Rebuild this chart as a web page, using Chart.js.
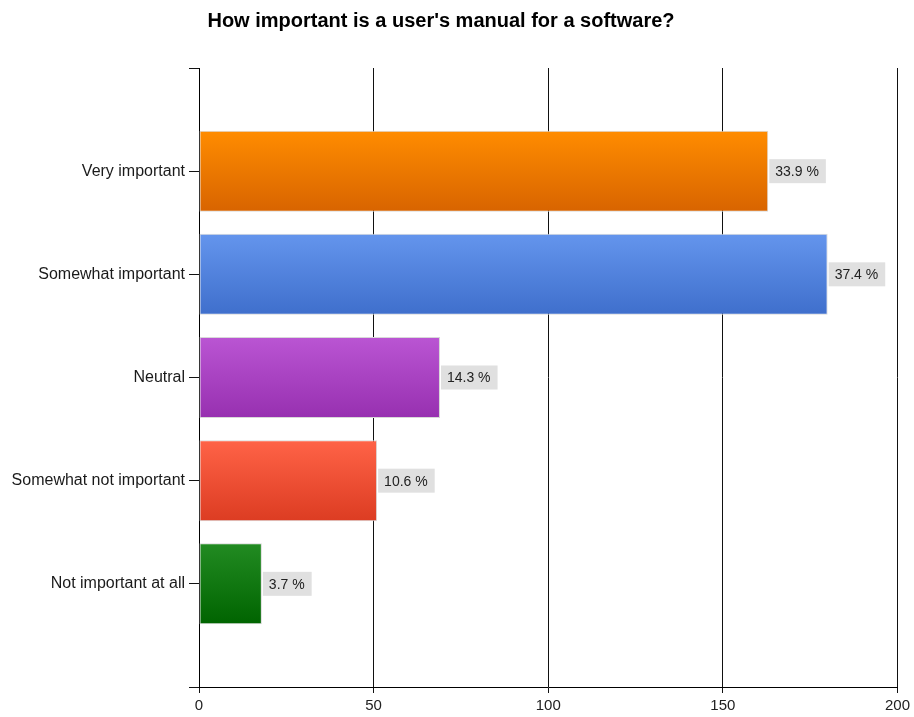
<!DOCTYPE html>
<html lang="en">
<head>
<meta charset="UTF-8">
<title>User's manual survey</title>
<script src="https://cdn.jsdelivr.net/npm/chart.js"></script>
<style>
  html, body { margin: 0; padding: 0; background: #fff; }
  #wrap { width: 914px; height: 717px; }
</style>
</head>
<body>
<div id="wrap"><canvas id="surveyChart" width="914" height="717"></canvas></div>
<script>
// survey answers (number of responses)
const answers = ['Very important', 'Somewhat important', 'Neutral', 'Somewhat not important', 'Not important at all'];
const responses = [163, 180, 69, 51, 18];
const xTicks = [0, 50, 100, 150, 200];

// top / bottom colour of each bar's gradient
const topColors = ['#ff8c00', '#6495ed', '#ba55d3', '#ff6347', '#228b22'];
const bottomColors = ['#d86400', '#3f6fcc', '#9730b0', '#dc3c22', '#006400'];

const total = responses.reduce((a, b) => a + b, 0);

// blank slot above and below the answers, like the original report
const labels = [''].concat(answers, ['']);
const values = [null].concat(responses, [null]);
const BAR_H = 81;

function barGradient(c) {
  const chart = c.chart;
  const idx = c.dataIndex - 1;
  if (idx < 0 || idx >= answers.length) return '#fff';
  if (!chart.chartArea || !chart.scales.y) return topColors[idx];
  const yc = chart.scales.y.getPixelForValue(c.dataIndex);
  const g = chart.ctx.createLinearGradient(0, yc - BAR_H / 2, 0, yc + BAR_H / 2);
  g.addColorStop(0, topColors[idx]);
  g.addColorStop(1, bottomColors[idx]);
  return g;
}

// title and percent boxes
const extras = {
  id: 'extras',
  afterDraw(chart) {
    const ctx = chart.ctx;
    ctx.save();
    ctx.fillStyle = '#000';
    ctx.font = 'bold 20px "Liberation Sans", Arial, sans-serif';
    ctx.textAlign = 'center';
    ctx.textBaseline = 'middle';
    ctx.fillText("How important is a user's manual for a software?", 441, 21);

    const meta = chart.getDatasetMeta(0);
    ctx.font = '14px "Liberation Sans", Arial, sans-serif';
    ctx.textAlign = 'left';
    responses.forEach((v, i) => {
      const bar = meta.data[i + 1];
      const txt = (v / total * 100).toFixed(1) + ' %';
      const w = ctx.measureText(txt).width + 13;
      const x = bar.x + 1;
      ctx.fillStyle = '#e0e0e0';
      ctx.fillRect(x, bar.y - 12, w, 24);
      ctx.fillStyle = '#222';
      ctx.fillText(txt, x + 6, bar.y + 1);
    });
    ctx.restore();
  }
};

new Chart(document.getElementById('surveyChart'), {
  type: 'bar',
  data: {
    labels: labels,
    datasets: [{
      data: values,
      backgroundColor: barGradient,
      borderColor: '#d8d8d8',
      borderWidth: 1,
      borderSkipped: false,
      categoryPercentage: 1,
      barPercentage: BAR_H / 103.2
    }]
  },
  options: {
    indexAxis: 'y',
    responsive: false,
    animation: false,
    layout: { padding: { top: 68, right: 16, left: 0, bottom: 0 } },
    plugins: {
      legend: { display: false },
      tooltip: { enabled: false }
    },
    scales: {
      x: {
        min: 0,
        max: 200,
        afterBuildTicks(scale) { scale.ticks = xTicks.map(v => ({ value: v })); },
        afterFit(scale) { scale.height = 30; },
        grid: { color: '#111', lineWidth: 1, tickLength: 6, drawOnChartArea: true },
        border: { color: '#000', width: 1 },
        ticks: {
          color: '#222',
          padding: 4,
          maxRotation: 0,
          font: { family: '"Liberation Sans", Arial, sans-serif', size: 15 }
        }
      },
      y: {
        offset: false,
        afterFit(scale) { scale.width = 199; },
        grid: { offset: false, drawOnChartArea: false, color: '#111', tickLength: 10 },
        border: { color: '#000', width: 1 },
        ticks: {
          color: '#1a1a1a',
          padding: 4,
          autoSkip: false,
          font: { family: '"Liberation Sans", Arial, sans-serif', size: 16 }
        }
      }
    }
  },
  plugins: [extras]
});
</script>
</body>
</html>
